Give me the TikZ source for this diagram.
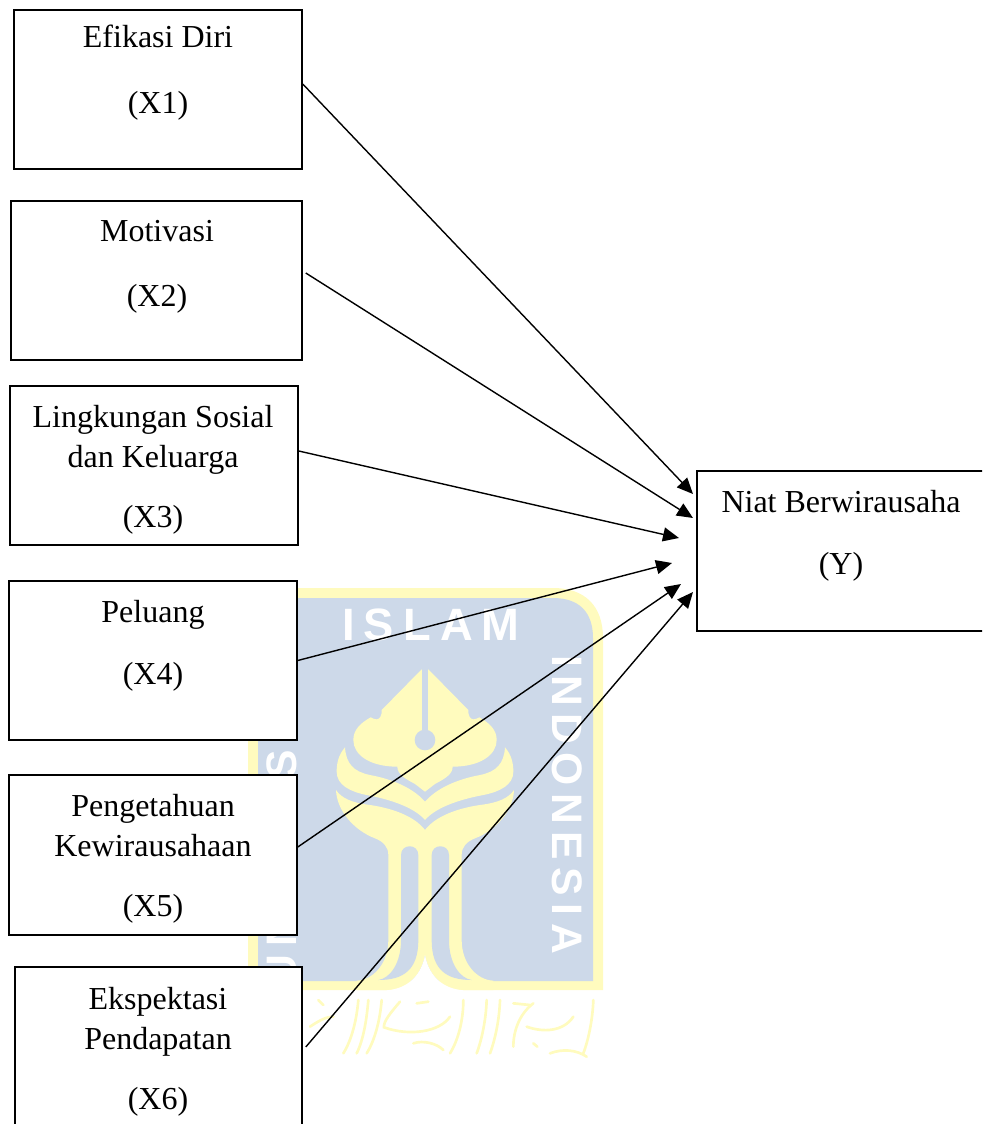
\documentclass[tikz,border=0pt]{standalone}
\usepackage{fontspec}
\setmainfont{Liberation Serif}
\newfontfamily\wmfont[LetterSpace=20]{Liberation Sans Bold}
\newfontfamily\wmfontb[LetterSpace=18]{Liberation Sans Bold}
\usetikzlibrary{arrows.meta}
\definecolor{wmblue}{HTML}{CDD9E9}
\definecolor{wmyellow}{HTML}{FFFBBE}
\newcommand{\fs}{\rule{0pt}{20pt}}
\newcommand{\halflogo}{%
  % nib
  \fill[wmyellow] (315,395) -- (315,28) -- (305,28) -- (185,150) .. controls (186,165) and (180,178) .. (170,178)
    .. controls (163,178) and (158,175) .. (152,172) .. controls (120,190) and (100,210) .. (100,240)
    .. controls (100,285) and (150,320) .. (232,320) .. controls (232,345) and (260,358) .. (285,372) -- cycle;
  % first wing
  \fill[wmyellow] (315,480) -- (315,425) .. controls (280,385) and (220,358) .. (150,345)
    .. controls (100,335) and (78,310) .. (75,262) .. controls (55,285) and (50,310) .. (50,335)
    .. controls (50,375) and (90,395) .. (140,405) .. controls (220,420) and (285,445) .. cycle;
  % second wing and stem
  \fill[wmyellow] (315,510) .. controls (285,470) and (220,445) .. (150,435)
    .. controls (95,428) and (65,415) .. (48,390) .. controls (50,450) and (100,510) .. (165,535)
    .. controls (190,545) and (205,560) .. (205,585) -- (205,840) .. controls (205,910) and (160,960) .. (110,962)
    -- (110,990) -- (200,990) .. controls (270,985) and (305,940) .. (315,885) -- cycle;
  % white under the stem
  \fill[white] (315,885) .. controls (305,940) and (270,985) .. (200,991) -- (200,1000) -- (315,1000) -- cycle;
  % slot
  \fill[wmblue] (243,585) .. controls (243,550) and (295,550) .. (295,585) -- (295,840)
    .. controls (295,930) and (250,960) .. (175,960) .. controls (210,955) and (243,910) .. (243,840) -- cycle;
}
\begin{document}
\begin{tikzpicture}[x=0.75pt,y=-0.75pt,
  box/.style={draw=black,line width=1.15pt,fill=white,inner sep=0pt},
  lbl/.style={anchor=north,inner sep=0pt,align=center,font=\fontsize{24}{30}\selectfont},
  conn/.style={line width=1.05pt,-{Triangle[length=12pt,width=10.5pt]}},
  wm/.style={white,inner sep=0pt}]
\useasboundingbox (0,0) rectangle (982,1124);
\clip (0,0) rectangle (982,1124);

% watermark
\fill[wmyellow] (248,990) -- (248,638) .. controls (248,606) and (266,588) .. (298,588) -- (553,588) .. controls (585,588) and (603,606) .. (603,638) -- (603,990) -- cycle;
\fill[wmblue] (258,981) -- (258,638) .. controls (258,612) and (272,598) .. (298,598) -- (553,598) .. controls (579,598) and (593,612) .. (593,638) -- (593,981) -- cycle;
\begin{scope}[shift={(320,660)},x=0.25pt,y=-0.25pt]
  \halflogo
  \begin{scope}[shift={(630,0)},xscale=-1]
    \halflogo
  \end{scope}
  \fill[wmblue] (306,0) -- (324,0) -- (324,215) -- (306,215) -- cycle;
  \fill[wmblue] (315,240) circle[radius=31];
\end{scope}
\node[wm,font={\fontsize{34}{36}\wmfont},anchor=center] (wma) at (431,625) {ISLAM};
\node[wm,font={\fontsize{32}{36}\wmfontb},rotate=-90,anchor=center] (wmb) at (567.5,805) {INDONESIA};
\node[wm,font={\fontsize{32}{36}\wmfontb},rotate=90,anchor=center] (wmc) at (282,805) {UNIVERSITAS};
\begin{scope}[shift={(300,840)},x=0.25pt,y=-0.25pt,draw=wmyellow,line width=2pt,line cap=round]
  \draw (880,480) .. controls (878,540) and (865,600) .. (850,640);
  \draw (820,530) .. controls (790,575) and (730,578) .. (680,560);
  \draw (700,490) .. controls (660,520) and (640,570) .. (640,620);
  \draw (600,480) .. controls (598,540) and (585,600) .. (570,640);
  \draw (560,480) .. controls (558,540) and (545,600) .. (530,640);
  \draw (490,480) .. controls (490,540) and (475,600) .. (450,640);
  \draw (300,485) .. controls (270,520) and (250,545) .. (252,562) .. controls (330,590) and (420,575) .. (450,530);
  \draw (245,480) .. controls (240,540) and (225,600) .. (200,640);
  \draw (205,480) .. controls (200,540) and (190,600) .. (170,640);
  \draw (175,480) .. controls (170,540) and (155,600) .. (130,640);
  \draw (340,610) .. controls (370,600) and (410,610) .. (430,630);
  \draw (750,640) .. controls (790,625) and (830,630) .. (860,650);
  \draw (350,490) -- (385,485);
  \draw (640,490) -- (690,495);
  \draw (55,480) -- (70,495);
  \draw (700,610) -- (712,620);
  \draw (30,560) .. controls (60,540) and (80,530) .. (100,530);
\end{scope}

% boxes
\node[box,minimum width=216pt,minimum height=119.25pt] (x1) at (158,89.5) {};
\node[box,minimum width=218.25pt,minimum height=119.25pt] (x2) at (156.5,280.5) {};
\node[box,minimum width=216pt,minimum height=119.25pt] (x3) at (154,465.5) {};
\node[box,minimum width=216pt,minimum height=119.25pt] (x4) at (153,660.5) {};
\node[box,minimum width=216pt,minimum height=120pt] (x5) at (153,855) {};
\node[box,minimum width=215.25pt,minimum height=120pt] (x6) at (158.5,1047) {};
\node[box,minimum width=216pt,minimum height=120pt] (y) at (841,551) {};

% labels
\node[lbl] (x1l) at (158,20.3) {\fs Efikasi Diri\\[19.5pt](X1)};
\node[lbl] (x2l) at (157,214.3) {\fs Motivasi\\[18.75pt](X2)};
\node[lbl] (x3l) at (153,400.3) {\fs Lingkungan Sosial\\dan Keluarga\\[15pt](X3)};
\node[lbl] (x4l) at (153,595.3) {\fs Peluang\\[16.5pt](X4)};
\node[lbl] (x5l) at (153,790) {\fs Pengetahuan\\Kewirausahaan\\[15pt](X5)};
\node[lbl] (x6l) at (158,982.3) {\fs Ekspektasi\\Pendapatan\\[15pt](X6)};
\node[lbl] (yl) at (841,485.3) {\fs Niat Berwirausaha\\[16.5pt](Y)};

% free ends of the connectors
\coordinate (t1) at (693,494);
\coordinate (t2) at (693,518);
\coordinate (t3) at (679,538);
\coordinate (t4) at (672,563);
\coordinate (t5) at (681,584);
\coordinate (t6) at (693,592);

\draw[conn] ([shift={(0,-5.5)}]x1.east) -- (t1);
\draw[conn] ([shift={(3,-7.5)}]x2.east) -- (t2);
\draw[conn] ([shift={(0,-14.5)}]x3.east) -- (t3);
\draw[conn] (x4.east) -- (t4);
\draw[conn] ([shift={(0,-8)}]x5.east) -- (t5);
\draw[conn] ([shift={(3,0)}]x6.east) -- (t6);
\end{tikzpicture}
\end{document}
